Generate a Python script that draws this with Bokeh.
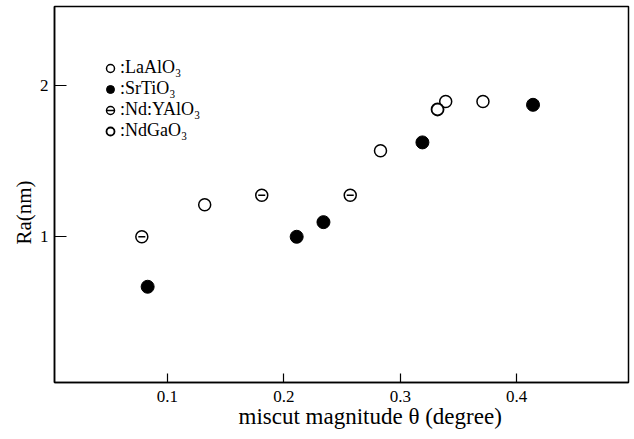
import math
from bokeh.plotting import figure
from bokeh.models import Range1d, FixedTicker, Legend, LegendItem, Label
from bokeh.embed import file_html
from bokeh.resources import INLINE

# ---- data ----
laalo3_x = [0.132, 0.283, 0.339, 0.371]
laalo3_y = [1.212, 1.570, 1.896, 1.896]
srtio3_x = [0.083, 0.211, 0.234, 0.319, 0.414]
srtio3_y = [0.669, 1.000, 1.097, 1.625, 1.874]
ndyalo3_x = [0.078, 0.181, 0.257]
ndyalo3_y = [1.000, 1.275, 1.275]
ndgao3_x = [0.332]
ndgao3_y = [1.843]

x_ticks = [0.1, 0.2, 0.3, 0.4]
y_ticks = [1, 2]
legend_labels = [":LaAlO\u2083", ":SrTiO\u2083", ":Nd:YAlO\u2083", ":NdGaO\u2083"]
x_title = "miscut magnitude \u03b8 (degree)"
y_title = "Ra(nm)"

FONT = "Liberation Serif"

p = figure(width=634, height=439, output_backend="svg", toolbar_location=None,
           x_range=Range1d(0.003, 0.496), y_range=Range1d(0.035, 2.525),
           min_border_left=54, min_border_right=6, min_border_top=6, min_border_bottom=57)
p.background_fill_color = "white"
p.border_fill_color = "white"
p.outline_line_color = "black"
p.outline_line_width = 1.5
p.xgrid.visible = False
p.ygrid.visible = False

for ax in (p.xaxis[0], p.yaxis[0]):
    ax.axis_line_width = 1.5
    ax.axis_line_color = "black"
    ax.major_tick_line_color = "black"
    ax.major_tick_line_width = 1.2
    ax.minor_tick_line_color = None
    ax.major_label_text_font = FONT
    ax.major_label_text_font_size = "17px"
    ax.major_label_text_color = "black"

p.xaxis.ticker = FixedTicker(ticks=x_ticks)
p.yaxis.ticker = FixedTicker(ticks=y_ticks)
p.xaxis.major_tick_in = 9
p.xaxis.major_tick_out = 0
p.yaxis.major_tick_in = 12
p.yaxis.major_tick_out = 0
p.xaxis.major_label_standoff = 8
p.yaxis.major_label_standoff = 6

r_la = p.scatter(laalo3_x, laalo3_y, marker="circle", size=12, fill_color="white",
                 line_color="black", line_width=1.5)
r_sr = p.scatter(srtio3_x, srtio3_y, marker="circle", size=13, fill_color="black",
                 line_color="black", line_width=1)
r_nd1 = p.scatter(ndyalo3_x, ndyalo3_y, marker="circle", size=12, fill_color="white",
                  line_color="black", line_width=1.5)
r_nd2 = p.scatter(ndyalo3_x, ndyalo3_y, marker="dash", size=7,
                  line_color="black", line_width=1.5)
r_ga = p.scatter(ndgao3_x, ndgao3_y, marker="circle", size=12, fill_color="white",
                 line_color="black", line_width=1.8)

legend = Legend(items=[
    LegendItem(label=legend_labels[0], renderers=[r_la]),
    LegendItem(label=legend_labels[1], renderers=[r_sr]),
    LegendItem(label=legend_labels[2], renderers=[r_nd1, r_nd2]),
    LegendItem(label=legend_labels[3], renderers=[r_ga]),
], location=(46, 241))
legend.padding = 0
legend.spacing = 0
legend.margin = 0
legend.glyph_width = 20
legend.glyph_height = 20
legend.label_height = 20
legend.label_standoff = 0
legend.label_text_font = FONT
legend.label_text_font_size = "18px"
legend.label_text_color = "black"
legend.background_fill_alpha = 0
legend.border_line_color = None
p.add_layout(legend, "center")

# axis titles as labels in the side panels
p.add_layout(Label(x=11, y=170, x_units="screen", y_units="screen", text=y_title,
                   angle=math.pi / 2, text_align="center", text_baseline="middle",
                   text_font=FONT, text_font_size="21px", text_color="black"), "left")
p.add_layout(Label(x=184, y=13, x_units="screen", y_units="screen", text=x_title,
                   text_align="left", text_baseline="alphabetic",
                   text_font=FONT, text_font_size="23px", text_color="black"), "below")

open("out.html", "w").write(file_html(p, INLINE))
